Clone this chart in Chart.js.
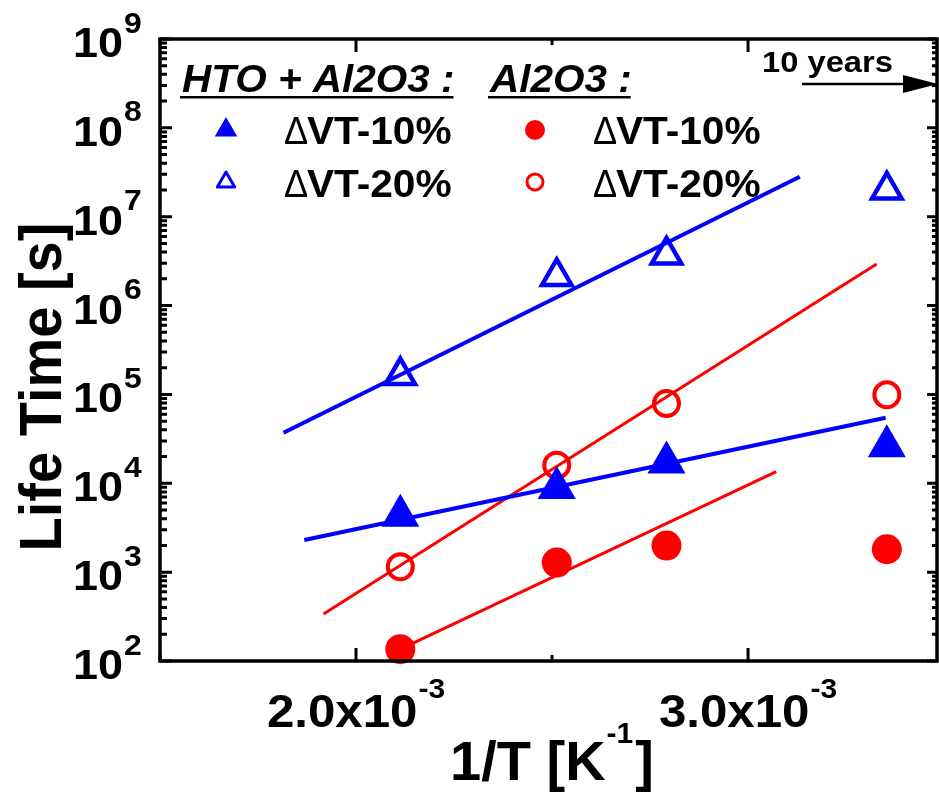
<!DOCTYPE html>
<html><head><meta charset="utf-8">
<script src="https://cdn.jsdelivr.net/npm/chart.js@4.4.1/dist/chart.umd.min.js"></script>
<style>html,body{margin:0;padding:0;background:#fff;}canvas{display:block;}</style>
</head><body>
<canvas id="c" width="939" height="796"></canvas>
<script>
// ---- data ----
const invT = [2.113e-3, 2.512e-3, 2.792e-3, 3.354e-3];
const htoVT10 = [4.32e3, 8.85e3, 1.71e4, 2.61e4];
const htoVT20 = [1.63e5, 2.13e6, 3.71e6, 2.0e7];
const alVT10 = [136, 1.28e3, 1.99e3, 1.81e3];
const alVT20 = [1.15e3, 1.6e4, 7.9e4, 9.9e4];
// fit lines (end points)
const fitHto20X = [1.815e-3, 3.132e-3], fitHto20Y = [3.71e4, 2.82e7];
const fitHto10X = [1.868e-3, 3.351e-3], fitHto10Y = [2.3e3, 5.47e4];
const fitAl20X = [1.917e-3, 3.328e-3], fitAl20Y = [338, 2.94e6];
const fitAl10X = [2.113e-3, 3.072e-3], fitAl10Y = [136, 1.35e4];
// ticks
const xMajorTicks = [2.0e-3, 3.0e-3];
const xMinorTicks = [1.5e-3, 2.5e-3, 3.5e-3];
const xTickLabels = [['2.0x10', '-3'], ['3.0x10', '-3']];
const yDecadeExps = [2, 3, 4, 5, 6, 7, 8, 9];
const yMinorMult = [2, 3, 4, 5, 6, 7, 8, 9];
const xTitle = ['1/T [K', '-1', ']'];
const yTitle = 'Life Time [s]';
const legendHeaders = ['HTO + Al2O3 :', 'Al2O3 :'];
const legendLabels = ['VT-10%', 'VT-20%'];
const arrowText = '10 years';

const BLUE = '#0000ff', RED = '#ff0000';
const pts = (xs, ys) => xs.map((x, i) => ({x: x, y: ys[i]}));

const FONT = '"Liberation Sans", Arial, Helvetica, sans-serif';

function txt(ctx, s, x, y, font, sx, align) {
  ctx.font = font;
  const w = ctx.measureText(s).width * sx;
  let x0 = x;
  if (align === 'right') x0 = x - w; else if (align === 'center') x0 = x - w / 2;
  ctx.save();
  ctx.translate(x0, y); ctx.scale(sx, 1);
  ctx.textAlign = 'left'; ctx.textBaseline = 'alphabetic';
  ctx.fillText(s, 0, 0);
  ctx.restore();
  return w;
}
function measure(ctx, s, font, sx) { ctx.font = font; return ctx.measureText(s).width * sx; }

const decor = {
  id: 'decor',
  afterDraw(chart) {
    const ctx = chart.ctx, a = chart.chartArea;
    const xs = chart.scales.x, ys = chart.scales.y;
    ctx.save();
    ctx.strokeStyle = '#000'; ctx.fillStyle = '#000';
    // frame
    ctx.lineWidth = 3.5;
    ctx.strokeRect(a.left, a.top, a.right - a.left, a.bottom - a.top);
    // ticks
    ctx.lineWidth = 3;
    ctx.beginPath();
    yDecadeExps.forEach(e => {
      const y = ys.getPixelForValue(Math.pow(10, e));
      ctx.moveTo(a.left, y); ctx.lineTo(a.left + 12, y);
      ctx.moveTo(a.right, y); ctx.lineTo(a.right - 10, y);
      if (e < 9) yMinorMult.forEach(m => {
        const yy = ys.getPixelForValue(m * Math.pow(10, e));
        ctx.moveTo(a.left, yy); ctx.lineTo(a.left + 7, yy);
        ctx.moveTo(a.right, yy); ctx.lineTo(a.right - 5, yy);
      });
    });
    xMajorTicks.forEach(v => {
      const x = xs.getPixelForValue(v);
      ctx.moveTo(x, a.top); ctx.lineTo(x, a.top + 13);
      ctx.moveTo(x, a.bottom); ctx.lineTo(x, a.bottom - 13);
    });
    xMinorTicks.forEach(v => {
      const x = xs.getPixelForValue(v);
      ctx.moveTo(x, a.top); ctx.lineTo(x, a.top + 6);
      ctx.moveTo(x, a.bottom); ctx.lineTo(x, a.bottom - 6);
    });
    ctx.stroke();

    // y tick labels
    yDecadeExps.forEach(e => {
      const y = ys.getPixelForValue(Math.pow(10, e));
      txt(ctx, '10', 123, y + 18, 'bold 42px ' + FONT, 1.07, 'right');
      txt(ctx, String(e), 124, y - 6.5, 'bold 29px ' + FONT, 1.1, 'left');
    });
    // x tick labels
    xMajorTicks.forEach((v, i) => {
      const x = xs.getPixelForValue(v);
      const [main, sup] = xTickLabels[i];
      const fM = 'bold 46px ' + FONT, fS = 'bold 28px ' + FONT;
      const w1 = measure(ctx, main, fM, 1.07), w2 = measure(ctx, sup, fS, 1.07);
      const x0 = x - (w1 + w2 + 1) / 2;
      txt(ctx, main, x0, 727, fM, 1.07, 'left');
      txt(ctx, sup, x0 + w1 + 1, 698, fS, 1.07, 'left');
    });
    // x title
    {
      const fM = 'bold 56px ' + FONT, fS = 'bold 30px ' + FONT;
      const w1 = measure(ctx, xTitle[0], fM, 1), w2 = measure(ctx, xTitle[1], fS, 1), w3 = measure(ctx, xTitle[2], fM, 1);
      const x0 = 552 - (w1 + w2 + w3 + 3) / 2;
      txt(ctx, xTitle[0], x0, 780, fM, 1, 'left');
      txt(ctx, xTitle[1], x0 + w1 + 1, 743, fS, 1, 'left');
      txt(ctx, xTitle[2], x0 + w1 + w2 + 3, 780, fM, 1, 'left');
    }
    // y title
    ctx.save();
    ctx.translate(61, 387);
    ctx.rotate(-Math.PI / 2);
    ctx.scale(1, 1.05);
    ctx.font = 'bold 56px ' + FONT;
    ctx.textAlign = 'center';
    ctx.fillText(yTitle, 0, 0);
    ctx.restore();

    // legend headers
    const hx = [182, 490];
    legendHeaders.forEach((t, i) => {
      const w = txt(ctx, t, hx[i], 92, 'italic bold 38px ' + FONT, 1.065, 'left');
      ctx.fillRect(hx[i] - 2, 96, w + 1, 2.5);
    });
    // legend rows
    const tx = [284, 593], rowY = [144, 197];
    for (let c = 0; c < 2; c++) {
      for (let r = 0; r < 2; r++) {
        txt(ctx, '\u0394', tx[c], rowY[r], '38px ' + FONT, 0.95, 'left');
        txt(ctx, legendLabels[r], tx[c] + 23, rowY[r], 'bold 38px ' + FONT, 1.07, 'left');
      }
    }
    // legend markers
    const tri = (cx, cy, rad) => {
      ctx.beginPath();
      for (let k = 0; k < 3; k++) {
        const ang = k * 2 * Math.PI / 3;
        const px = cx + Math.sin(ang) * rad, py = cy - Math.cos(ang) * rad;
        k ? ctx.lineTo(px, py) : ctx.moveTo(px, py);
      }
      ctx.closePath();
    };
    ctx.fillStyle = BLUE; ctx.strokeStyle = BLUE;
    tri(226, 130, 13); ctx.fill();
    ctx.lineWidth = 3; ctx.lineJoin = 'round';
    tri(226, 182, 10); ctx.stroke();
    ctx.fillStyle = RED; ctx.strokeStyle = RED;
    ctx.beginPath(); ctx.arc(535, 130, 10, 0, 2 * Math.PI); ctx.fill();
    ctx.lineWidth = 3;
    ctx.beginPath(); ctx.arc(535, 182, 8, 0, 2 * Math.PI); ctx.stroke();

    // 10 years arrow
    ctx.fillStyle = '#000'; ctx.strokeStyle = '#000';
    txt(ctx, arrowText, 762, 72, 'bold 30px ' + FONT, 1.09, 'left');
    ctx.lineWidth = 2.5;
    ctx.beginPath(); ctx.moveTo(802, 84); ctx.lineTo(906, 84); ctx.stroke();
    ctx.beginPath(); ctx.moveTo(903, 75); ctx.lineTo(938, 84); ctx.lineTo(903, 93); ctx.closePath(); ctx.fill();
    ctx.restore();
  }
};

const lineDs = (xs, ys, color, w) => ({
  data: pts(xs, ys), showLine: true, borderColor: color, borderWidth: w,
  pointRadius: 0, fill: false, order: 5, clip: false
});

new Chart(document.getElementById('c'), {
  type: 'scatter',
  data: {
    datasets: [
      {data: pts(invT, htoVT10), pointStyle: 'triangle', pointRadius: 19, backgroundColor: BLUE, borderColor: BLUE, borderWidth: 3, order: 0, clip: false},
      {data: pts(invT, htoVT20), pointStyle: 'triangle', pointRadius: 17, backgroundColor: 'rgba(0,0,0,0)', borderColor: BLUE, borderWidth: 4.5, order: 0, clip: false},
      {data: pts(invT, alVT10), pointStyle: 'circle', pointRadius: 15, backgroundColor: RED, borderColor: RED, borderWidth: 0, order: 0, clip: false},
      {data: pts(invT, alVT20), pointStyle: 'circle', pointRadius: 12.5, backgroundColor: 'rgba(0,0,0,0)', borderColor: RED, borderWidth: 4, order: 0, clip: false},
      lineDs(fitHto20X, fitHto20Y, BLUE, 4),
      lineDs(fitHto10X, fitHto10Y, BLUE, 4),
      lineDs(fitAl20X, fitAl20Y, RED, 3),
      lineDs(fitAl10X, fitAl10Y, RED, 3)
    ]
  },
  options: {
    responsive: false, animation: false,
    layout: {autoPadding: false, padding: {left: 160, top: 39, right: 2, bottom: 135}},
    plugins: {legend: {display: false}, tooltip: {enabled: false}},
    elements: {point: {hoverRadius: 0}},
    scales: {
      x: {type: 'linear', min: 1.5e-3, max: 3.482e-3, display: false},
      y: {type: 'logarithmic', min: 1e2, max: 1e9, display: false}
    }
  },
  plugins: [decor]
});
</script>
</body></html>
